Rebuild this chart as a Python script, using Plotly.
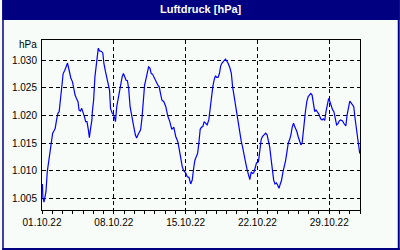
import plotly.graph_objects as go
import pandas as pd

# hours since 01.10.22 00:00
hours = [1, 2, 4.6, 9.3, 12.3, 17, 20.2, 24.9, 27.9, 30.9, 34.1, 37.2, 40.2, 43.4, 46.5, 49.5, 53.4, 57.4, 59.7,
         63.4, 67.4, 71.3, 74.3, 77.4, 80.6, 84.3, 86.6, 89.9, 92.9, 95.9, 99.2, 102.2, 105.2, 108.5, 110.8,
         113.8, 116.8, 117.8, 120.8, 123.8, 127.1, 130.1, 131.7, 134.7, 139.4, 142.4, 144.7, 148.7, 151.7,
         154.9, 158, 160.3, 164.2, 168, 171.9, 174.9, 178.2, 181.2, 184.2, 187.5, 190.5, 193.5, 196.8, 199.8,
         202.8, 206.1, 209.1, 212.1, 215.3, 218.4, 221.4, 224.6, 227.7, 230.7, 233.9, 236.9, 240, 243.2,
         246.2, 249.3, 252.5, 255.5, 258.6, 261.8, 266.5, 271.1, 274.1, 277.1, 280.4, 285, 289.7, 294.3, 299,
         303.6, 308.3, 312.9, 317.6, 320.6, 323.6, 328.2, 331.5, 336.1, 339.9, 343.8, 347.8, 351.5, 354.7,
         357.7, 360.8, 364, 367, 370.1, 373.3, 376.3, 379.4, 382.6, 386.3, 390.3, 393.3, 396.5, 399.6, 402.6,
         405.8, 408.8, 411.9, 415.1, 418.1, 421.2, 425.1, 429.1, 432.1, 435.1, 439.8, 443, 446, 449, 453.7,
         456.9, 460, 463, 466.2, 469.2, 473.9, 476.9, 480.2, 483.2, 486.2, 489.5, 492.5, 495.5, 498.8, 501.8,
         506.4, 509.4, 512.7, 515.7, 520.4, 523.4, 526.6, 529.6, 532.7, 535.9, 539, 542, 545.2, 548.2, 551.3,
         554.5, 557.5, 560.5, 563.8, 566.8, 569.8, 573.1, 576.1, 579.1, 582.4, 585.4, 588.5, 591.7, 596.3,
         599.3, 602.4, 605.6, 608.6, 610.3, 613.3, 616.3, 619.5, 622.6, 625.6, 628.8, 631.9, 634.9, 638.1,
         641.1, 644.2, 647.4, 652.1, 655.1, 658.1, 661.4, 664.4, 667.4, 670.7, 673.7, 676.7, 680, 683, 686,
         689.2, 692.3, 695.3, 698.5, 703.2, 706.2, 710.8, 713.9, 717.1, 720.1, 723.2, 726.4, 729.4, 732.4,
         735.7, 738.7, 741.7, 743.4]

pressure = [1007.6, 1005.2, 1004.3, 1006.2, 1009.8, 1012.5, 1014.7, 1016.8, 1017.2, 1017.7, 1019.2, 1020.4,
            1020.7, 1023.1, 1026.1, 1027.6, 1028.2, 1029.3, 1029.5, 1028.2, 1026.8, 1026.1, 1024.6, 1023.7,
            1023.1, 1022.5, 1021.0, 1020.8, 1021.3, 1020.7, 1019.8, 1018.9, 1018.9, 1017.4, 1016.0, 1017.7,
            1019.2, 1020.7, 1022.8, 1027.0, 1029.7, 1032.0, 1032.2, 1031.7, 1031.6, 1031.3, 1029.5, 1027.9,
            1026.9, 1025.8, 1024.6, 1021.3, 1020.4, 1020.1, 1018.9, 1021.6, 1023.1, 1024.0, 1025.2, 1027.0,
            1027.6, 1027.0, 1026.4, 1026.3, 1024.9, 1021.6, 1020.1, 1018.9, 1017.7, 1016.5, 1015.9, 1016.5,
            1017.1, 1017.4, 1019.5, 1023.1, 1025.5, 1026.6, 1027.9, 1028.8, 1028.6, 1027.6, 1027.5, 1026.9,
            1026.3, 1025.5, 1025.2, 1023.7, 1022.8, 1022.5, 1021.6, 1019.9, 1018.9, 1017.5, 1017.9, 1016.2,
            1015.3, 1014.1, 1012.5, 1010.7, 1010.0, 1009.6, 1008.9, 1008.8, 1007.6, 1008.3, 1010.4, 1011.9,
            1012.5, 1013.1, 1015.0, 1017.5, 1017.9, 1018.0, 1018.9, 1018.6, 1018.3, 1019.2, 1021.3, 1023.4,
            1025.2, 1026.4, 1027.2, 1026.9, 1026.9, 1027.6, 1029.0, 1029.5, 1029.9, 1030.2, 1029.9, 1029.5,
            1028.6, 1027.6, 1025.2, 1023.7, 1021.6, 1020.1, 1018.0, 1016.5, 1015.3, 1014.3, 1012.8, 1011.3,
            1010.1, 1009.2, 1008.4, 1009.8, 1009.5, 1009.6, 1010.7, 1011.4, 1011.6, 1013.1, 1015.6, 1016.2,
            1016.5, 1016.8, 1016.5, 1015.6, 1014.3, 1012.2, 1009.8, 1008.3, 1007.6, 1007.8, 1007.4, 1006.8,
            1007.6, 1008.3, 1009.8, 1010.6, 1011.8, 1013.4, 1015.0, 1015.6, 1016.5, 1017.9, 1018.6, 1017.9,
            1017.1, 1016.2, 1015.3, 1014.7, 1015.0, 1016.5, 1018.3, 1020.7, 1022.5, 1023.4, 1023.7, 1024.0,
            1023.7, 1022.5, 1020.7, 1021.0, 1020.7, 1020.3, 1019.4, 1019.2, 1019.4, 1019.1, 1020.7, 1022.2,
            1023.1, 1022.5, 1021.6, 1021.0, 1020.7, 1019.7, 1018.3, 1018.5, 1019.0, 1019.2, 1019.0, 1018.6,
            1018.1, 1020.1, 1021.9, 1022.6, 1022.3, 1021.9, 1021.6, 1019.5, 1017.4, 1015.6, 1014.3, 1013.1]

title_text = "Luftdruck [hPa]"
unit_text = "hPa"
start = pd.Timestamp("2022-10-01 00:00")
end = pd.Timestamp("2022-11-01 00:00")
y_range = [1002.88, 1033.68]

times = [start + pd.Timedelta(hours=h) for h in hours]

BG = "#F8FCF8"
NAVY = "#000080"
FONT = "Liberation Sans"

fig = go.Figure()
fig.add_trace(go.Scatter(x=times, y=pressure, mode="lines",
                         line=dict(color="#0000FF", width=1.2), hoverinfo="skip"))

W, H = 400, 250
L, R, T, B = 40, 40, 40, 40
pw, ph = W - L - R, H - T - B


def px_x(x):
    return (x - L) / pw


def px_y(y):
    return (H - B - y) / ph


shapes = [
    # title bar
    dict(type="rect", xref="paper", yref="paper", x0=px_x(0), x1=px_x(400), y0=px_y(20), y1=px_y(0),
         fillcolor=NAVY, line=dict(width=0), layer="below"),
    # left border
    dict(type="rect", xref="paper", yref="paper", x0=px_x(0), x1=px_x(1.5), y0=px_y(250), y1=px_y(0),
         fillcolor=NAVY, line=dict(width=0), layer="below"),
    # right border
    dict(type="rect", xref="paper", yref="paper", x0=px_x(398), x1=px_x(400), y0=px_y(250), y1=px_y(0),
         fillcolor=NAVY, line=dict(width=0), layer="below"),
    # bottom border
    dict(type="rect", xref="paper", yref="paper", x0=px_x(0), x1=px_x(400), y0=px_y(250), y1=px_y(248),
         fillcolor=NAVY, line=dict(width=0), layer="below"),
]

fig.update_layout(
    width=W, height=H,
    margin=dict(l=L, r=R, t=T, b=B),
    paper_bgcolor=BG, plot_bgcolor=BG,
    separators=",.",
    showlegend=False,
    font=dict(family=FONT, size=10, color="black"),
    shapes=shapes,
    annotations=[
        dict(text="<b>" + title_text + "</b>", xref="paper", yref="paper", x=0.5, y=px_y(9),
             xanchor="center", yanchor="middle", showarrow=False,
             font=dict(family=FONT, size=11, color="white")),
        dict(text=unit_text, xref="paper", yref="paper", x=px_x(37), y=px_y(44.5),
             xanchor="right", yanchor="middle", showarrow=False,
             font=dict(family=FONT, size=10, color="black")),
    ],
    xaxis=dict(
        type="date", range=[start, end],
        tick0=start, dtick=7 * 86400000, tickformat="%d.%m.%y",
        ticks="outside", ticklen=3, tickcolor="black", tickwidth=1,
        showgrid=True, gridcolor="black", gridwidth=1, griddash="4px,3px",
        minor=dict(dtick=86400000, tick0=start, ticks="outside", ticklen=3, tickcolor="black",
                   tickwidth=1, showgrid=False),
        showline=True, linecolor="black", linewidth=1, mirror=True,
        zeroline=False, fixedrange=True,
        tickfont=dict(family=FONT, size=10, color="black"),
    ),
    yaxis=dict(
        range=y_range, tick0=1000, dtick=5, tickformat=",.0f",
        ticks="", ticklabelstandoff=2,
        showgrid=True, gridcolor="black", gridwidth=1, griddash="4px,3px",
        showline=True, linecolor="black", linewidth=1, mirror=True,
        zeroline=False, fixedrange=True,
        tickfont=dict(family=FONT, size=10, color="black"),
    ),
)

fig.write_html("out.html", config=dict(displayModeBar=False))
